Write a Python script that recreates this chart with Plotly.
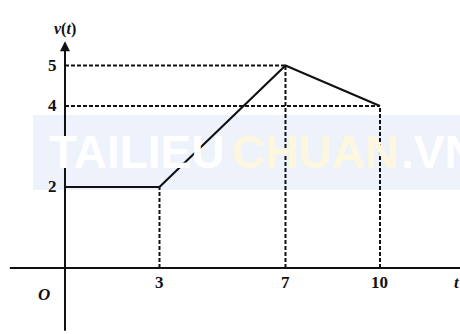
import plotly.graph_objects as go

# Data
t_points = [0, 3, 7, 10]
v_points = [2, 2, 5, 4]
x_ticks = [3, 7, 10]
x_tick_labels = ["3", "7", "10"]
y_ticks = [2, 4, 5]
y_tick_labels = ["2", "4", "5"]

fig = go.Figure()

# watermark band
fig.add_shape(type="rect", xref="paper", yref="paper", x0=33/460, x1=1, y0=1-190/334, y1=1-115/334,
              fillcolor="#edf2fb", line_width=0, layer="below")
wm_font = "Liberation Sans"
fig.add_annotation(xref="paper", yref="paper", x=226/460, y=1-152/334, text="<b>TAILIEU</b>", showarrow=False,
                   font=dict(family=wm_font, size=46, color="#ffffff"), xanchor="right")
fig.add_annotation(xref="paper", yref="paper", x=230/460, y=1-152/334, text="<b>CHUAN</b>", showarrow=False,
                   font=dict(family=wm_font, size=46, color="#fdf7e0"), xanchor="left")
fig.add_annotation(xref="paper", yref="paper", x=399/460, y=1-152/334, text="<b>.VN</b>", showarrow=False,
                   font=dict(family=wm_font, size=46, color="#ffffff"), xanchor="left")

# dashed guides
dash_style = dict(color="#111111", width=2, dash="4px,2px")
for xv, yv in zip(t_points[1:], v_points[1:]):
    fig.add_trace(go.Scatter(x=[xv, xv], y=[0, yv], mode="lines", line=dash_style, hoverinfo="skip"))
for xv, yv in zip(t_points[2:], v_points[2:]):
    fig.add_trace(go.Scatter(x=[0, xv], y=[yv, yv], mode="lines", line=dash_style, hoverinfo="skip"))

# axes
fig.add_trace(go.Scatter(x=[-1.75, 12.6], y=[0, 0], mode="lines", line=dict(color="#111111", width=2), hoverinfo="skip"))
fig.add_trace(go.Scatter(x=[0, 0], y=[-1.55, 5.45], mode="lines", line=dict(color="#111111", width=2), hoverinfo="skip"))
fig.add_annotation(x=0, y=5.6, ax=0, ay=5.2, xref="x", yref="y", axref="x", ayref="y", text="",
                   showarrow=True, arrowhead=2, arrowsize=1, arrowwidth=2, arrowcolor="#111111")

# graph
fig.add_trace(go.Scatter(x=t_points, y=v_points, mode="lines", line=dict(color="#111111", width=2.2), hoverinfo="skip"))

font = dict(family="Liberation Serif", size=17, color="#111111")
for xv, lab in zip(x_ticks, x_tick_labels):
    fig.add_annotation(x=xv, y=0, yshift=-15, text="<b>%s</b>" % lab, showarrow=False, font=font)
for yv, lab in zip(y_ticks, y_tick_labels):
    fig.add_annotation(x=0, y=yv, xshift=-6, text="<b>%s</b>" % lab, showarrow=False, font=font, xanchor="right")
fig.add_annotation(x=0, y=0, xshift=-21, yshift=-27, text="<b><i>O</i></b>", showarrow=False, font=font)
fig.add_annotation(x=12.54, y=0, yshift=-15, xanchor="center", xshift=-3, text="<b><i>t</i></b>", showarrow=False, font=font)
fig.add_annotation(xref="x", yref="paper", x=0, y=1-18/334, text="<b><i>v</i>(<i>t</i>)</b>", showarrow=False,
                   font=dict(family="Liberation Serif", size=16, color="#111111"))

fig.update_layout(width=460, height=334, margin=dict(l=0, r=0, t=0, b=0),
                  plot_bgcolor="white", paper_bgcolor="white", showlegend=False)
fig.update_xaxes(range=[-2.063, 12.54], visible=False)
fig.update_yaxes(range=[-1.630, 6.617], visible=False)

fig.write_html("out.html", config={"displayModeBar": False},
               post_script="document.body.style.margin='0';document.body.style.overflow='hidden';")
